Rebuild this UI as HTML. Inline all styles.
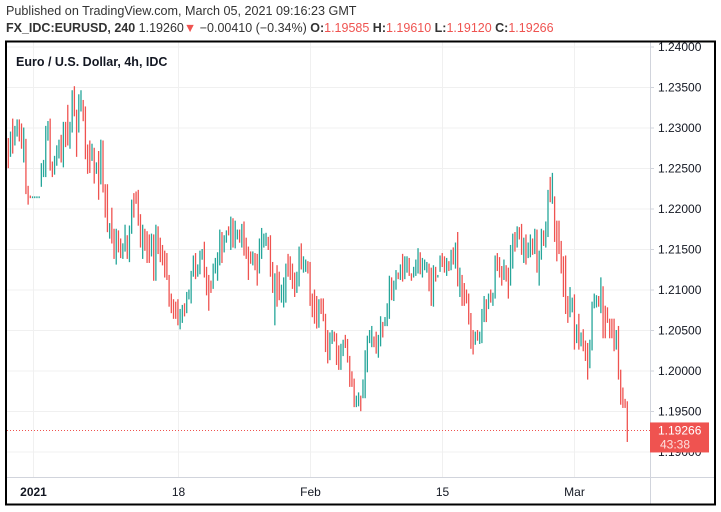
<!DOCTYPE html>
<html><head><meta charset="utf-8"><style>
html,body{margin:0;padding:0;background:#fff;width:721px;height:512px;overflow:hidden}
body{font-family:"Liberation Sans",sans-serif;color:#131722;position:relative}
.t1{position:absolute;left:6px;top:4px;font-size:12.6px;color:#333;white-space:nowrap}
.t2{position:absolute;left:6px;top:21px;font-size:12.5px;color:#333;white-space:nowrap}
.b{font-weight:bold}.r{color:#ef5350}
svg{position:absolute;left:0;top:0}
</style></head><body>
<div class="t1">Published on TradingView.com, March 05, 2021 09:16:23 GMT</div>
<div class="t2"><span class="b">FX_IDC:EURUSD, 240</span> 1.19260<span class="r">▼</span> −0.00410 (−0.34%) <span class="b">O:</span><span class="r">1.19585</span> <span class="b">H:</span><span class="r">1.19610</span> <span class="b">L:</span><span class="r">1.19120</span> <span class="b">C:</span><span class="r">1.19266</span></div>
<svg id="chart" width="721" height="512"></svg>
<script>
const highs=[1.2287,1.2295,1.2311,1.2302,1.2310,1.2310,1.2305,1.2300,1.2286,1.2228,1.2216,1.2215,1.2215,1.2215,1.2215,1.2256,1.2260,1.2302,1.2308,1.2311,1.2258,1.2265,1.2278,1.2285,1.2291,1.2307,1.2307,1.2328,1.2307,1.2346,1.2351,1.2322,1.2341,1.2346,1.2334,1.2326,1.2279,1.2284,1.2280,1.2275,1.2257,1.2271,1.2285,1.2284,1.2230,1.2230,1.2182,1.2201,1.2175,1.2175,1.2173,1.2163,1.2157,1.2180,1.2167,1.2179,1.2211,1.2219,1.2221,1.2223,1.2193,1.2180,1.2175,1.2172,1.2168,1.2169,1.2168,1.2180,1.2178,1.2164,1.2155,1.2148,1.2145,
1.2118,1.2095,1.2088,1.2085,1.2088,1.2076,1.2081,1.2083,1.2097,1.2100,1.2123,1.2142,1.2145,1.2131,1.2148,1.2150,1.2159,1.2128,1.2118,1.2111,1.2132,1.2139,1.2146,1.2174,1.2171,1.2167,1.2173,1.2178,1.2190,1.2188,1.2185,1.2174,1.2174,1.2181,1.2184,1.2164,1.2153,1.2147,1.2147,1.2145,1.2144,1.2163,1.2176,1.2169,1.2170,1.2165,1.2167,1.2134,1.2120,1.2130,1.2122,1.2106,1.2115,1.2132,1.2144,1.2141,1.2132,1.2121,1.2122,1.2153,1.2157,1.2141,1.2137,1.2135,1.2134,1.2095,1.2100,1.2092,1.2088,1.2089,1.2089,1.2070,1.2050,1.2047,1.2050,1.2048,1.2046,1.2031,
1.2033,1.2038,1.2044,1.2039,1.2018,1.1999,1.1990,1.1969,1.1973,1.1969,1.1989,1.2025,1.2043,1.2050,1.2055,1.2042,1.2048,1.2044,1.2067,1.2060,1.2066,1.2083,1.2117,1.2115,1.2111,1.2124,1.2121,1.2131,1.2144,1.2141,1.2141,1.2139,1.2120,1.2128,1.2137,1.2151,1.2146,1.2139,1.2137,1.2134,1.2132,1.2127,1.2130,1.2128,1.2118,1.2142,1.2145,1.2141,1.2139,1.2135,1.2149,1.2152,1.2158,1.2171,1.2127,1.2118,1.2108,1.2100,1.2095,1.2071,1.2050,1.2048,1.2050,1.2048,1.2076,1.2092,
1.2088,1.2095,1.2100,1.2096,1.2142,1.2145,1.2140,1.2129,1.2137,1.2130,1.2127,1.2155,1.2169,1.2171,1.2178,1.2177,1.2181,1.2164,1.2168,1.2158,1.2168,1.2163,1.2175,1.2174,1.2148,1.2175,1.2173,1.2184,1.2223,1.2239,1.2244,1.2215,1.2185,1.2185,1.2160,1.2141,1.2142,1.2092,1.2103,1.2090,1.2094,1.2057,1.2070,1.2047,1.2051,1.2037,1.2034,1.2038,1.2085,1.2095,1.2093,1.2092,1.2115,1.2104,1.2080,1.2078,1.2064,1.2064,1.2064,1.2050,1.2055,1.2001,1.1979,1.1965,1.1962];
const lows=[1.2251,1.2265,1.2269,1.2279,1.2290,1.2284,1.2275,1.2258,1.2219,1.2206,1.2214,1.2214,1.2214,1.2214,1.2214,1.2228,1.2240,1.2240,1.2285,1.2248,1.2240,1.2243,1.2254,1.2263,1.2258,1.2252,1.2277,1.2279,1.2275,1.2295,1.2315,1.2265,1.2295,1.2321,1.2309,1.2262,1.2244,1.2245,1.2260,1.2232,1.2244,1.2212,1.2231,1.2221,1.2190,1.2172,1.2164,1.2158,1.2139,1.2132,1.2147,1.2140,1.2139,1.2148,1.2139,1.2135,1.2170,1.2190,1.2207,1.2180,1.2153,1.2139,1.2149,1.2134,1.2134,1.2142,1.2112,1.2112,1.2145,1.2135,1.2131,1.2116,1.2113,
1.2080,1.2072,1.2065,1.2065,1.2057,1.2052,1.2060,1.2068,1.2072,1.2089,1.2084,1.2117,1.2114,1.2117,1.2120,1.2138,1.2116,1.2094,1.2075,1.2097,1.2102,1.2121,1.2112,1.2131,1.2134,1.2147,1.2159,1.2168,1.2150,1.2153,1.2152,1.2163,1.2159,1.2153,1.2143,1.2139,1.2113,1.2133,1.2131,1.2125,1.2106,1.2121,1.2139,1.2153,1.2155,1.2150,1.2117,1.2097,1.2057,1.2080,1.2088,1.2085,1.2079,1.2085,1.2117,1.2113,1.2102,1.2092,1.2097,1.2105,1.2126,1.2122,1.2123,1.2121,1.2081,1.2067,1.2059,1.2053,1.2054,1.2071,1.2062,1.2024,1.2010,1.2014,1.2034,1.2037,1.2008,1.2002,
1.2002,1.2019,1.2029,1.2011,1.1981,1.1981,1.1956,1.1956,1.1957,1.1951,1.1967,1.1967,1.1999,1.2035,1.2030,1.2030,1.2022,1.2017,1.2031,1.2042,1.2056,1.2056,1.2065,1.2088,1.2087,1.2101,1.2114,1.2113,1.2111,1.2114,1.2122,1.2118,1.2112,1.2116,1.2118,1.2121,1.2120,1.2116,1.2125,1.2122,1.2099,1.2081,1.2080,1.2111,1.2116,1.2123,1.2129,1.2122,1.2118,1.2124,1.2125,1.2132,1.2127,1.2105,1.2092,1.2081,1.2081,1.2084,1.2058,1.2028,1.2021,1.2033,1.2038,1.2034,1.2035,1.2061,
1.2061,1.2077,1.2085,1.2081,1.2090,1.2124,1.2116,1.2106,1.2113,1.2111,1.2090,1.2106,1.2127,1.2148,1.2153,1.2163,1.2144,1.2134,1.2132,1.2140,1.2141,1.2144,1.2145,1.2122,1.2106,1.2138,1.2155,1.2153,1.2166,1.2209,1.2207,1.2160,1.2136,1.2145,1.2121,1.2092,1.2071,1.2060,1.2067,1.2073,1.2027,1.2035,1.2027,1.2031,1.2025,1.2013,1.1990,1.2004,1.2026,1.2078,1.2079,1.2080,1.2072,1.2041,1.2041,1.2060,1.2041,1.2041,1.2025,1.2027,1.1990,1.1959,1.1955,1.1955,1.1913];
const ups=[0,1,0,1,1,0,0,1,0,0,0,1,1,1,1,1,1,1,1,0,0,1,1,1,0,1,0,0,1,1,0,0,1,1,0,0,0,0,1,0,1,0,1,0,0,0,1,0,0,1,0,0,1,1,0,1,1,0,0,0,0,1,0,0,0,1,0,1,0,0,0,0,0,
0,0,0,0,0,1,1,0,1,1,1,1,0,1,1,1,0,0,0,0,1,1,1,1,0,1,1,0,1,0,1,1,0,1,0,0,0,0,1,0,0,1,1,1,1,0,0,0,1,0,0,1,1,1,0,0,0,0,1,1,0,1,1,0,0,0,0,0,1,0,0,0,0,1,1,0,0,0,
1,1,0,0,0,0,0,1,1,0,1,1,1,1,1,0,0,1,1,0,1,1,1,0,1,1,0,1,0,1,1,0,0,1,1,1,0,1,1,1,0,0,1,0,1,1,0,0,1,0,1,0,1,0,1,0,0,0,0,0,0,1,0,1,1,1,
0,1,0,1,1,0,0,0,1,0,0,1,1,0,1,0,0,1,0,1,1,0,1,0,1,1,0,1,1,0,1,0,0,0,0,0,0,0,1,1,0,1,0,1,0,0,0,1,1,1,1,0,1,0,0,0,0,0,0,1,0,0,0,0,0];
const priceTicks=[1.24,1.235,1.23,1.225,1.22,1.215,1.21,1.205,1.2,1.195,1.19];
const timeLabels=["2021","18","Feb","15","Mar"];
const timeLabelBars=[11,77,137,197,257];
const lastPrice=1.19266;
const countdown="43:38";

const NS="http://www.w3.org/2000/svg";
const svg=document.getElementById('chart');
const plotL=7,plotR=650,plotT=42,plotB=477;
const yOf=p=>47+(1.24-p)*8100;
const x0=8.3,x1=627.3;
const xOf=i=>x0+i*(x1-x0)/(highs.length-1);
function mk(tag,attrs){const e=document.createElementNS(NS,tag);for(const k in attrs)e.setAttribute(k,attrs[k]);svg.appendChild(e);return e;}

priceTicks.forEach(p=>{
  const g=mk('line',{x1:plotL,x2:plotR,y1:yOf(p),y2:yOf(p),stroke:'#f0f0f0','stroke-width':1});
  
  
});
timeLabels.forEach((t,k)=>{
  const x=Math.round(xOf(timeLabelBars[k]))+0.5;
  const g=mk('line',{x1:x,x2:x,y1:plotT,y2:plotB,stroke:'#f0f0f0','stroke-width':1});
  
  
  const tx=mk('text',{x:x,y:496,'text-anchor':'middle','font-size':12,fill:'#131722','font-family':'Liberation Sans, sans-serif','font-weight':k===0?'bold':'normal'});
  tx.textContent=t;
  
  
});
highs.forEach((h,i)=>{
  const x=xOf(i);
  const b=mk('line',{x1:x,x2:x,y1:yOf(h)-0.5,y2:yOf(lows[i])+0.5,stroke:ups[i]?'#26a69a':'#ef5350','stroke-width':1.3});
  
  
});
const ax1=mk('line',{x1:plotR+0.5,x2:plotR+0.5,y1:plotT,y2:505,stroke:'#d1d4dc'});


const ax2=mk('line',{x1:plotL,x2:715,y1:plotB+0.5,y2:plotB+0.5,stroke:'#d1d4dc'});


priceTicks.forEach(p=>{
  const tk=mk('line',{x1:plotR,x2:plotR+4,y1:yOf(p),y2:yOf(p),stroke:'#d1d4dc'});
  
  
  const t=mk('text',{x:658,y:yOf(p)+4,'font-size':12,fill:'#131722','font-family':'Liberation Sans, sans-serif'});
  t.textContent=p.toFixed(5);
  
  
});
const ly=yOf(lastPrice);
const dl=mk('line',{x1:plotL,x2:plotR,y1:ly,y2:ly,stroke:'#ef5350','stroke-dasharray':'1 2'});


const box=mk('rect',{x:650,y:ly-8,width:59,height:30,fill:'#ef5350'});


const lt=mk('text',{x:658,y:ly+4,'font-size':12,fill:'#fff','font-family':'Liberation Sans, sans-serif'});
lt.textContent=lastPrice.toFixed(5);


const ct=mk('text',{x:660,y:ly+18,'font-size':12,fill:'#fde0df','font-family':'Liberation Sans, sans-serif'});
ct.textContent=countdown;


const tt=mk('text',{x:16,y:66,'font-size':12.5,'font-weight':'bold',fill:'#131722','font-family':'Liberation Sans, sans-serif'});
tt.textContent='Euro / U.S. Dollar, 4h, IDC';


const fr=mk('rect',{x:6,y:41.5,width:709,height:463,fill:'none',stroke:'#000','stroke-width':2});


</script>
</body></html>
